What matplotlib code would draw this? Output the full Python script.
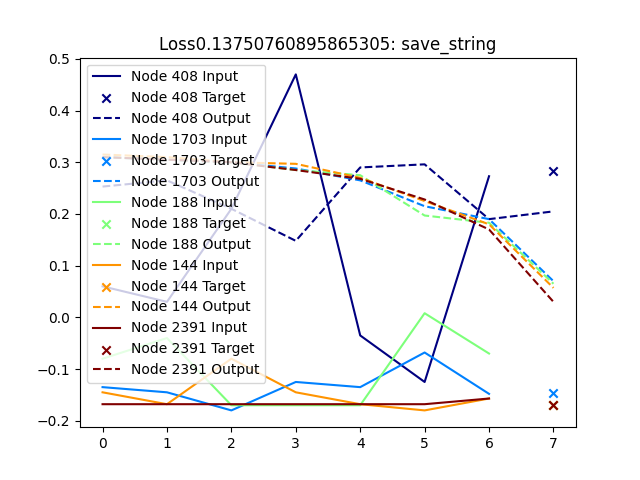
import matplotlib
matplotlib.use("Agg")
import matplotlib.pyplot as plt
import numpy as np

nodes = ["408", "1703", "188", "144", "2391"]
inputs = [
    [0.06, 0.03, 0.21, 0.47, -0.035, -0.125, 0.273],
    [-0.135, -0.145, -0.18, -0.125, -0.135, -0.068, -0.148],
    [-0.08, -0.04, -0.17, -0.17, -0.17, 0.008, -0.07],
    [-0.145, -0.168, -0.08, -0.145, -0.168, -0.18, -0.157],
    [-0.168, -0.168, -0.168, -0.168, -0.168, -0.168, -0.157],
]
targets = [0.284, -0.147, -0.17, -0.17, -0.17]
outputs = [
    [0.253, 0.265, 0.21, 0.148, 0.29, 0.296, 0.19, 0.205],
    [0.31, 0.305, 0.30, 0.288, 0.265, 0.215, 0.19, 0.07],
    [0.31, 0.305, 0.30, 0.285, 0.275, 0.197, 0.183, 0.065],
    [0.315, 0.31, 0.30, 0.297, 0.27, 0.225, 0.18, 0.057],
    [0.31, 0.305, 0.30, 0.285, 0.268, 0.228, 0.17, 0.03],
]
title = "Loss0.13750760895865305: save_string"

fig, ax = plt.subplots(figsize=(6.4, 4.8), dpi=100)
cmap = plt.get_cmap("jet")
n = len(nodes)
for i, name in enumerate(nodes):
    c = cmap(i / (n - 1))
    ax.plot(np.arange(len(inputs[i])), inputs[i], color=c, label=f"Node {name} Input")
    ax.scatter([len(inputs[i])], [targets[i]], color=c, marker="x", label=f"Node {name} Target")
    ax.plot(np.arange(len(outputs[i])), outputs[i], color=c, linestyle="--", label=f"Node {name} Output")
ax.set_title(title)
ax.legend(loc="upper left")
fig.savefig("out.png")
